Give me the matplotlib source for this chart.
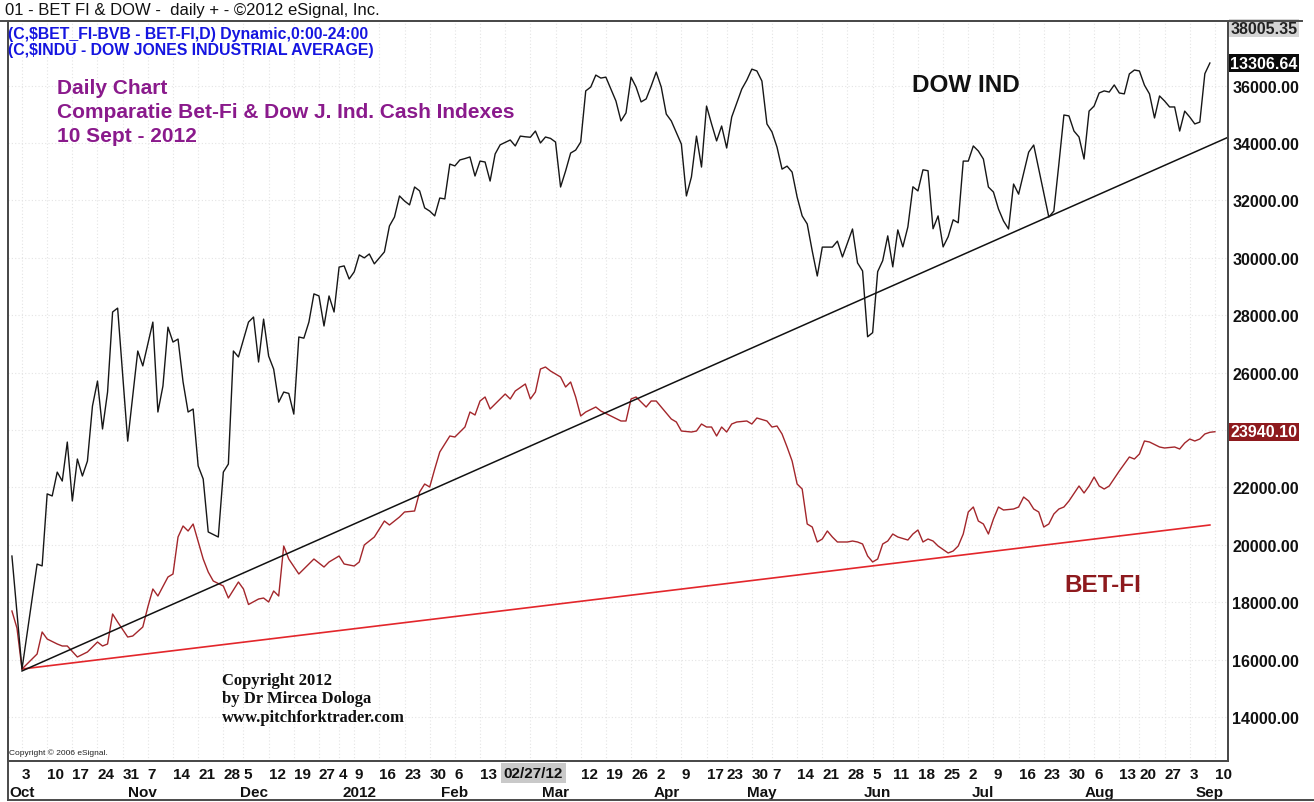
import matplotlib
matplotlib.use('Agg')
import matplotlib.pyplot as plt
import matplotlib.transforms as mtransforms
from matplotlib.lines import Line2D
import numpy as np
import pandas as pd

plt.rcParams['font.family'] = ['Liberation Sans', 'DejaVu Sans']

# ---------------- data ----------------
dow_dates = [
    '2011-09-29', '2011-10-03', '2011-10-05', '2011-10-06', '2011-10-07', '2011-10-10', '2011-10-11',
    '2011-10-12', '2011-10-13', '2011-10-14', '2011-10-17', '2011-10-18', '2011-10-19', '2011-10-20',
    '2011-10-21', '2011-10-24', '2011-10-25', '2011-10-26', '2011-10-27', '2011-10-28', '2011-11-01',
    '2011-11-03', '2011-11-04', '2011-11-08', '2011-11-09', '2011-11-10', '2011-11-11', '2011-11-14',
    '2011-11-15', '2011-11-16', '2011-11-17', '2011-11-18', '2011-11-21', '2011-11-22', '2011-11-23',
    '2011-11-25', '2011-11-28', '2011-11-29', '2011-11-30', '2011-12-02', '2011-12-06', '2011-12-07',
    '2011-12-08', '2011-12-09', '2011-12-12', '2011-12-13', '2011-12-14', '2011-12-15', '2011-12-16',
    '2011-12-19', '2011-12-20', '2011-12-21', '2011-12-22', '2011-12-23', '2011-12-27', '2011-12-28',
    '2011-12-29', '2011-12-30', '2012-01-04', '2012-01-05', '2012-01-06', '2012-01-09', '2012-01-10',
    '2012-01-11', '2012-01-12', '2012-01-13', '2012-01-17', '2012-01-18', '2012-01-19', '2012-01-20',
    '2012-01-23', '2012-01-24', '2012-01-25', '2012-01-26', '2012-01-27', '2012-01-30', '2012-01-31',
    '2012-02-01', '2012-02-02', '2012-02-03', '2012-02-06', '2012-02-07', '2012-02-08', '2012-02-09',
    '2012-02-10', '2012-02-13', '2012-02-14', '2012-02-15', '2012-02-16', '2012-02-17', '2012-02-21',
    '2012-02-22', '2012-02-23', '2012-02-24', '2012-02-27', '2012-02-28', '2012-02-29', '2012-03-01',
    '2012-03-02', '2012-03-05', '2012-03-06', '2012-03-07', '2012-03-08', '2012-03-09', '2012-03-12',
    '2012-03-13', '2012-03-14', '2012-03-15', '2012-03-16', '2012-03-19', '2012-03-20', '2012-03-21',
    '2012-03-22', '2012-03-23', '2012-03-26', '2012-03-27', '2012-03-28', '2012-03-29', '2012-03-30',
    '2012-04-02', '2012-04-03', '2012-04-04', '2012-04-05', '2012-04-09', '2012-04-10', '2012-04-11',
    '2012-04-12', '2012-04-13', '2012-04-17', '2012-04-18', '2012-04-19', '2012-04-20', '2012-04-23',
    '2012-04-24', '2012-04-26', '2012-04-27', '2012-04-30', '2012-05-02', '2012-05-03', '2012-05-04',
    '2012-05-07', '2012-05-08', '2012-05-09', '2012-05-10', '2012-05-11', '2012-05-14', '2012-05-15',
    '2012-05-16', '2012-05-17', '2012-05-18', '2012-05-21', '2012-05-22', '2012-05-23', '2012-05-24',
    '2012-05-25', '2012-05-29', '2012-05-30', '2012-05-31', '2012-06-01', '2012-06-05', '2012-06-06',
    '2012-06-07', '2012-06-08', '2012-06-11', '2012-06-12', '2012-06-13', '2012-06-14', '2012-06-15',
    '2012-06-18', '2012-06-19', '2012-06-20', '2012-06-21', '2012-06-22', '2012-06-25', '2012-06-26',
    '2012-06-27', '2012-06-28', '2012-06-29', '2012-07-02', '2012-07-03', '2012-07-04', '2012-07-05',
    '2012-07-06', '2012-07-09', '2012-07-10', '2012-07-11', '2012-07-12', '2012-07-13', '2012-07-16',
    '2012-07-18', '2012-07-19', '2012-07-24', '2012-07-25', '2012-07-26', '2012-07-27', '2012-07-30',
    '2012-07-31', '2012-08-01', '2012-08-02', '2012-08-03', '2012-08-06', '2012-08-07', '2012-08-08',
    '2012-08-09', '2012-08-10', '2012-08-13', '2012-08-14', '2012-08-16', '2012-08-17', '2012-08-20',
    '2012-08-21', '2012-08-22', '2012-08-23', '2012-08-24', '2012-08-27', '2012-08-28', '2012-08-29',
    '2012-08-30', '2012-08-31', '2012-09-03', '2012-09-04', '2012-09-05', '2012-09-06', '2012-09-07',
]
dow_values = [
    11157, 10664, 10970, 11122, 11114, 11428, 11419,
    11523, 11484, 11654, 11397, 11580, 11506, 11571,
    11811, 11920, 11711, 11872, 12221, 12238, 11658,
    12051, 11986, 12177, 11785, 11898, 12155, 12090,
    12103, 11916, 11785, 11798, 11550, 11493, 11262,
    11240, 11523, 11558, 12051, 12025, 12177, 12199,
    12003, 12190, 12029, 11972, 11828, 11872, 11866,
    11776, 12112, 12107, 12177, 12300, 12291, 12160,
    12291, 12221, 12417, 12422, 12365, 12396, 12470,
    12457, 12474, 12431, 12483, 12596, 12635, 12727,
    12705, 12688, 12766, 12749, 12675, 12661, 12640,
    12718, 12714, 12866, 12858, 12884, 12890, 12897,
    12814, 12879, 12875, 12792, 12910, 12950, 12971,
    12945, 12988, 12985, 12983, 13010, 12958, 12984,
    12978, 12962, 12766, 12836, 12914, 12927, 12962,
    13185, 13202, 13254, 13241, 13245, 13193, 13141,
    13054, 13089, 13245, 13202, 13137, 13150, 13206,
    13267, 13202, 13084, 13054, 12953, 12727, 12810,
    12988, 12853, 13119, 13041, 12967, 13032, 12936,
    13071, 13193, 13232, 13280, 13272, 13228, 13041,
    13006, 12940, 12844, 12857, 12831, 12722, 12640,
    12605, 12487, 12378, 12504, 12504, 12504, 12530,
    12461, 12583, 12435, 12400, 12113, 12131, 12397,
    12445, 12553, 12418, 12579, 12505, 12592, 12767,
    12749, 12841, 12837, 12584, 12640, 12505, 12549,
    12623, 12610, 12879, 12879, 12945, 12923, 12888,
    12766, 12744, 12670, 12618, 12583, 12779, 12735,
    12918, 12949, 12635, 12661, 12866, 13080, 13076,
    13010, 12984, 12888, 13097, 13119, 13176, 13185,
    13180, 13211, 13176, 13172, 13259, 13276, 13272,
    13210, 13172, 13067, 13163, 13141, 13115, 13115,
    13010, 13097, 13071, 13041, 13049, 13260, 13306.64,
]

bet_dates = [
    '2011-09-29', '2011-09-30', '2011-10-03', '2011-10-05', '2011-10-06', '2011-10-07', '2011-10-10',
    '2011-10-12', '2011-10-13', '2011-10-14', '2011-10-18', '2011-10-20', '2011-10-24', '2011-10-25',
    '2011-10-26', '2011-10-27', '2011-10-28', '2011-11-01', '2011-11-02', '2011-11-04', '2011-11-07',
    '2011-11-08', '2011-11-09', '2011-11-11', '2011-11-14', '2011-11-15', '2011-11-16', '2011-11-17',
    '2011-11-18', '2011-11-22', '2011-11-23', '2011-11-24', '2011-11-28', '2011-11-29', '2011-12-02',
    '2011-12-05', '2011-12-06', '2011-12-08', '2011-12-09', '2011-12-12', '2011-12-13', '2011-12-14',
    '2011-12-15', '2011-12-16', '2011-12-20', '2011-12-22', '2011-12-23', '2011-12-28', '2011-12-29',
    '2012-01-04', '2012-01-05', '2012-01-09', '2012-01-10', '2012-01-11', '2012-01-12', '2012-01-13',
    '2012-01-17', '2012-01-18', '2012-01-20', '2012-01-23', '2012-01-25', '2012-01-26', '2012-01-27',
    '2012-01-30', '2012-01-31', '2012-02-01', '2012-02-03', '2012-02-06', '2012-02-08', '2012-02-09',
    '2012-02-10', '2012-02-13', '2012-02-14', '2012-02-15', '2012-02-16', '2012-02-17', '2012-02-20',
    '2012-02-21', '2012-02-22', '2012-02-24', '2012-02-27', '2012-02-28', '2012-02-29', '2012-03-01',
    '2012-03-02', '2012-03-06', '2012-03-07', '2012-03-08', '2012-03-09', '2012-03-12', '2012-03-13',
    '2012-03-15', '2012-03-16', '2012-03-20', '2012-03-22', '2012-03-23', '2012-03-26', '2012-03-27',
    '2012-03-28', '2012-03-29', '2012-03-30', '2012-04-02', '2012-04-03', '2012-04-05', '2012-04-06',
    '2012-04-09', '2012-04-11', '2012-04-12', '2012-04-13', '2012-04-17', '2012-04-18', '2012-04-19',
    '2012-04-20', '2012-04-23', '2012-04-24', '2012-04-25', '2012-04-27', '2012-04-30', '2012-05-02',
    '2012-05-04', '2012-05-07', '2012-05-08', '2012-05-09', '2012-05-10', '2012-05-11', '2012-05-14',
    '2012-05-15', '2012-05-16', '2012-05-17', '2012-05-18', '2012-05-21', '2012-05-22', '2012-05-23',
    '2012-05-24', '2012-05-28', '2012-05-29', '2012-05-30', '2012-05-31', '2012-06-01', '2012-06-05',
    '2012-06-06', '2012-06-07', '2012-06-08', '2012-06-11', '2012-06-12', '2012-06-14', '2012-06-15',
    '2012-06-18', '2012-06-19', '2012-06-20', '2012-06-21', '2012-06-22', '2012-06-26', '2012-06-27',
    '2012-06-28', '2012-06-29', '2012-07-02', '2012-07-03', '2012-07-04', '2012-07-05', '2012-07-06',
    '2012-07-09', '2012-07-10', '2012-07-11', '2012-07-13', '2012-07-16', '2012-07-17', '2012-07-18',
    '2012-07-19', '2012-07-20', '2012-07-23', '2012-07-24', '2012-07-25', '2012-07-26', '2012-07-27',
    '2012-07-30', '2012-08-01', '2012-08-02', '2012-08-03', '2012-08-06', '2012-08-07', '2012-08-08',
    '2012-08-09', '2012-08-13', '2012-08-16', '2012-08-17', '2012-08-20', '2012-08-21', '2012-08-22',
    '2012-08-24', '2012-08-27', '2012-08-29', '2012-08-30', '2012-08-31', '2012-09-03', '2012-09-04',
    '2012-09-05', '2012-09-06', '2012-09-07', '2012-09-10',
]
bet_values = [
    17693, 17100, 15672, 16021, 16195, 16962, 16718,
    16544, 16474, 16474, 16091, 16265, 16613, 16474,
    16544, 17589, 17310, 16787, 16822, 17136, 17833,
    18460, 18216, 18878, 18983, 20272, 20655, 20481,
    20725, 19505, 19052, 18739, 18564, 18146, 18704,
    18460, 17920, 18111, 18146, 18007, 18390, 18216,
    19958, 19505, 18983, 19331, 19505, 19226, 19401,
    19610, 19331, 19261, 19401, 19993, 20132, 20272,
    20829, 20690, 20969, 21143, 21178, 21840, 22118,
    22014, 22641, 23233, 23791, 23756, 24104, 24627,
    24523, 25010, 25150, 24732, 24906, 25080, 25254,
    25080, 25359, 25603, 25080, 25324, 26125, 26195,
    26056, 25847, 25498, 25672, 25150, 24488, 24627,
    24801, 24662, 24488, 24314, 24314, 25080, 25150,
    24976, 24801, 25010, 25010, 24801, 24383, 24279,
    23965, 23930, 23965, 24209, 24104, 24104, 23791,
    24104, 23930, 24209, 24279, 24314, 24209, 24418,
    24314, 24104, 24139, 23861, 23408, 22920, 22118,
    21944, 20725, 20620, 20098, 20202, 20481, 20272,
    20098, 20098, 20132, 20098, 20028, 19610, 19401,
    19505, 20028, 20132, 20376, 20272, 20167, 20376,
    20516, 20098, 20202, 20132, 19958, 19714, 19784,
    19958, 20376, 21143, 21317, 20829, 20725, 20376,
    20899, 21317, 21212, 21247, 21317, 21665, 21526,
    21247, 21143, 20620, 20725, 21073, 21247, 21317,
    21526, 22049, 21805, 22049, 22362, 22049, 21944,
    22049, 22571, 23059, 22989, 23164, 23617, 23582,
    23408, 23373, 23408, 23338, 23547, 23686, 23617,
    23686, 23861, 23920, 23940.10,
]

# trend lines (two anchor points each)
dow_trend_dates = ['2011-10-03', '2012-07-24']
dow_trend_values = [10656, 12637]
bet_trend_dates = ['2011-10-03', '2012-09-07']
bet_trend_values = [15672, 20690]

# axis labels
price_ticks = [14000, 16000, 18000, 20000, 22000, 24000, 26000, 28000, 30000, 32000, 34000, 36000]
hidden_price_ticks = [24000]
scale_top_value = 38005.35

week_dates = ['2011-10-03', '2011-10-10', '2011-10-17', '2011-10-24', '2011-10-31', '2011-11-07',
              '2011-11-14', '2011-11-21', '2011-11-28', '2011-12-05', '2011-12-12', '2011-12-19',
              '2011-12-27', '2012-01-04', '2012-01-09', '2012-01-16', '2012-01-23', '2012-01-30',
              '2012-02-06', '2012-02-13', '2012-02-20', '2012-02-27', '2012-03-05', '2012-03-12',
              '2012-03-19', '2012-03-26', '2012-04-02', '2012-04-09', '2012-04-17', '2012-04-23',
              '2012-04-30', '2012-05-07', '2012-05-14', '2012-05-21', '2012-05-28', '2012-06-05',
              '2012-06-11', '2012-06-18', '2012-06-25', '2012-07-02', '2012-07-09', '2012-07-16',
              '2012-07-23', '2012-07-30', '2012-08-06', '2012-08-13', '2012-08-20', '2012-08-27',
              '2012-09-03', '2012-09-10']
week_labels = ['3', '10', '17', '24', '31', '7', '14', '21', '28', '5', '12', '19', '27', '4', '9',
               '16', '23', '30', '6', '13', '20', '27', '5', '12', '19', '26', '2', '9', '17', '23',
               '30', '7', '14', '21', '28', '5', '11', '18', '25', '2', '9', '16', '23', '30', '6',
               '13', '20', '27', '3', '10']
month_label_dates = ['2011-10-03', '2011-11-04', '2011-12-07', '2012-01-10', '2012-02-06', '2012-03-05',
                     '2012-04-04', '2012-05-03', '2012-06-06', '2012-07-05', '2012-08-07', '2012-09-07']
month_labels = ['Oct', 'Nov', 'Dec', '2012', 'Feb', 'Mar', 'Apr', 'May', 'Jun', 'Jul', 'Aug', 'Sep']
cursor_date = '2012-02-27'
cursor_label = '02/27/12'
# week labels hidden under the cursor box in the reference
cursor_hidden = ['2012-02-20', '2012-02-27', '2012-03-05']

holidays = ['2011-12-01', '2011-12-26', '2012-01-02', '2012-01-03', '2012-04-16',
            '2012-05-01', '2012-06-04', '2012-08-15']

# ---------------- trading-day axis ----------------
cal = pd.bdate_range('2011-09-19', '2012-09-28')
cal = cal[~cal.isin(pd.to_datetime(holidays))]
origin = cal.get_loc(pd.Timestamp('2011-10-03'))


def pos(dates):
    idx = cal.get_indexer(pd.to_datetime(dates))
    assert (idx >= 0).all()
    return idx - origin


W, H = 1314, 803
fig = plt.figure(figsize=(W / 100, H / 100), dpi=100)


def fx(px):
    return px / W


def fy(py):
    return 1 - py / H


ax = fig.add_axes([fx(8), fy(762), (1228 - 8) / W, (762 - 22) / H])
ax2 = ax.twinx()

XL = (-2.78, 239.6)
ax.set_xlim(*XL)
ax2.set_xlim(*XL)
ax.set_ylim(12467, 38251)
ax2.set_ylim(10263.4, 13489.8)

# grid
grid_kw = dict(color='#e4e4e4', lw=0.8, ls=(0, (1, 2)), zorder=0)
for t in price_ticks:
    ax.axhline(t, **grid_kw)
for x in pos(week_dates):
    ax.axvline(x, **grid_kw)

# series
ax.plot(pos(bet_dates), bet_values, color='#a3262b', lw=1.0, zorder=3)
ax2.plot(pos(dow_dates), dow_values, color='#161616', lw=1.0, zorder=3)

# trend lines
tx = pos(dow_trend_dates)
slope = (dow_trend_values[1] - dow_trend_values[0]) / (tx[1] - tx[0])
ax2.plot([tx[0], XL[1]], [dow_trend_values[0], dow_trend_values[0] + slope * (XL[1] - tx[0])],
         color='#111111', lw=1.1, zorder=2)
ax.plot(pos(bet_trend_dates), bet_trend_values, color='#e3262b', lw=1.2, zorder=2)

# axes styling
for a in (ax, ax2):
    for s in a.spines.values():
        s.set_color('#4a4a4a')
        s.set_linewidth(1.4)
ax2.set_yticks([])
ax.yaxis.tick_right()
shown_ticks = [t for t in price_ticks if t not in hidden_price_ticks]
ax.set_yticks(shown_ticks)
ax.set_yticklabels([f'{t:.2f}' for t in shown_ticks])
ax.tick_params(axis='y', length=0, pad=3, labelsize=11.5, labelcolor='#111111')
for lab in ax.get_yticklabels():
    lab.set_fontweight('bold')

ax.set_xticks(pos(week_dates))
ax.set_xticklabels(['' if d in cursor_hidden else l for d, l in zip(week_dates, week_labels)])
ax.tick_params(axis='x', length=0, pad=4, labelsize=11, labelcolor='#111111')
for lab in ax.get_xticklabels():
    lab.set_ha('left')
    lab.set_fontweight('bold')

xt = ax.get_xaxis_transform()
for d, m in zip(month_label_dates, month_labels):
    ax.text(pos([d])[0], -31 / 740, m, transform=xt, ha='center', va='center',
            fontsize=11, fontweight='bold', color='#111111', clip_on=False)

cur_tr = mtransforms.offset_copy(xt, fig=fig, x=3, y=0, units='dots')
ax.text(pos([cursor_date])[0], -12 / 740, cursor_label, transform=cur_tr, ha='center', va='center',
        fontsize=11, fontweight='bold', color='#111111', zorder=10, clip_on=False,
        bbox=dict(boxstyle='square,pad=0.2', fc='#c9c9c9', ec='none'))

# right-side value boxes
rt_bet = mtransforms.blended_transform_factory(ax.transAxes, ax.transData)
rt_dow = mtransforms.blended_transform_factory(ax.transAxes, ax2.transData)
ax.text(1.002, scale_top_value, f'{scale_top_value:.2f}', transform=rt_bet, ha='left', va='center',
        fontsize=11.5, fontweight='bold', color='#222222', clip_on=False,
        bbox=dict(boxstyle='square,pad=0.1', fc='#d4d4d4', ec='none'))
ax2.text(1.002, dow_values[-1], f'{dow_values[-1]:.2f}', transform=rt_dow, ha='left', va='center',
         fontsize=11.5, color='white', fontweight='bold', clip_on=False,
         bbox=dict(boxstyle='square,pad=0.1', fc='#0a0a0a', ec='none'))
ax.text(1.002, bet_values[-1], f'{bet_values[-1]:.2f}', transform=rt_bet, ha='left', va='center',
        fontsize=11.5, color='white', fontweight='bold', clip_on=False,
        bbox=dict(boxstyle='square,pad=0.1', fc='#8e1a1e', ec='none'))

# header / annotations
fig.text(fx(5), fy(11), '01 - BET FI & DOW -  daily + - \u00a92012 eSignal, Inc.', ha='left', va='center',
         fontsize=12, color='#111111')
fig.text(fx(8), fy(34), '(C,$BET_FI-BVB - BET-FI,D) Dynamic,0:00-24:00', ha='left', va='center',
         fontsize=11.4, color='#1515e0', fontweight='bold')
fig.text(fx(8), fy(50), '(C,$INDU - DOW JONES INDUSTRIAL AVERAGE)', ha='left', va='center',
         fontsize=11.4, color='#1515e0', fontweight='bold')

purple = '#8a1a8c'
for py, s in [(88, 'Daily Chart'), (113, 'Comparatie Bet-Fi & Dow J. Ind. Cash Indexes'),
              (137, '10 Sept - 2012')]:
    fig.text(fx(57), fy(py), s, ha='left', va='center', fontsize=15, color=purple, fontweight='bold')

fig.text(fx(966), fy(86), 'DOW IND', ha='center', va='center', fontsize=17.5, color='#111111',
         fontweight='bold')
fig.text(fx(1103), fy(585), 'BET-FI', ha='center', va='center', fontsize=17.5, color='#8e1a1e',
         fontweight='bold')

serif = ['Liberation Serif', 'DejaVu Serif']
for py, s in [(681, 'Copyright 2012'), (699, 'by Dr Mircea Dologa'), (718, 'www.pitchforktrader.com')]:
    fig.text(fx(222), fy(py), s, ha='left', va='center', fontsize=12, family=serif, fontweight='bold',
             color='#111111')

fig.text(fx(9), fy(753), 'Copyright \u00a9 2006 eSignal.', ha='left', va='center', fontsize=6, color='#222222')

# outer frame lines
frame_kw = dict(color='#4a4a4a', lw=1.4, transform=fig.transFigure)
fig.add_artist(Line2D([fx(0), fx(1302)], [fy(22), fy(22)], **frame_kw))
fig.add_artist(Line2D([fx(8), fx(8)], [fy(22), fy(801)], **frame_kw))
fig.add_artist(Line2D([fx(8), fx(1314)], [fy(801), fy(801)], **frame_kw))

fig.savefig('out.png', dpi=100)
